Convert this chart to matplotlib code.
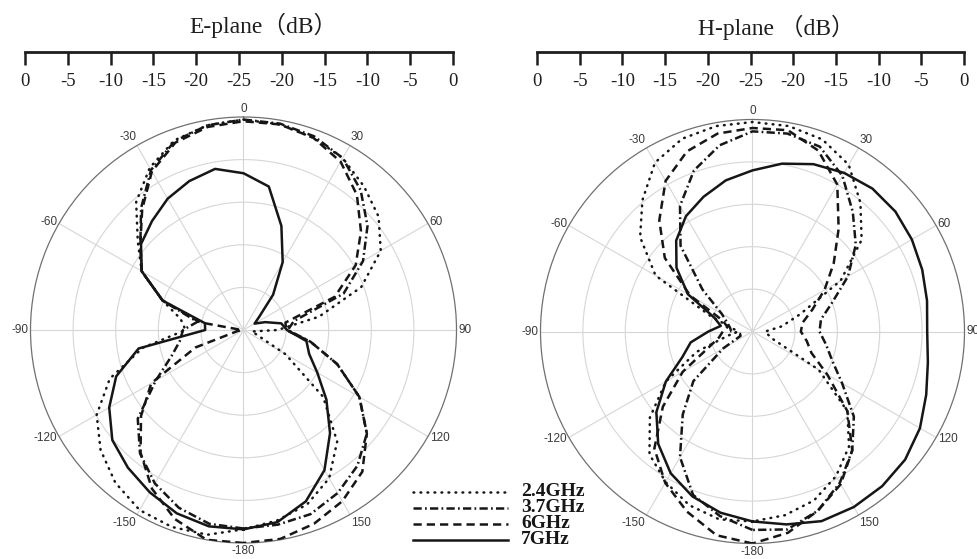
import numpy as np
import matplotlib
matplotlib.use('Agg')
import matplotlib.pyplot as plt

# angles (deg, clockwise from top) shared by every pattern
angles = list(range(-180, 180, 10))

# E-plane patterns (dB)
e_24 = [-1.6, -0.6, -0.4, -0.6, -1.6, -3.1, -5.1, -8.3, -13.0, -18.2, -17.5, -14.9,
        -11.2, -8.8, -5.4, -3.0, -1.3, -0.6, -0.3, -0.5, -1.0, -1.7, -3.0, -4.3,
        -6.4, -10.3, -16.0, -21.0, -24.0, -23.3, -19.3, -12.8, -7.9, -4.9, -3.2, -2.3]
e_37 = [-1.7, -1.9, -2.8, -4.2, -6.1, -8.8, -13.1, -16.0, -17.4, -17.9, -19.5, -14.9,
        -11.2, -9.2, -6.3, -3.3, -1.4, -0.6, -0.3, -0.4, -0.8, -1.7, -3.6, -6.0,
        -8.8, -12.5, -19.0, -19.8, -17.0, -13.3, -9.3, -6.1, -4.2, -2.9, -2.0, -1.8]
e_6 = [0.0, 0.0, -1.4, -3.5, -6.2, -9.3, -12.5, -19.0, -24.3, -24.8, -19.8, -14.9,
       -11.2, -9.2, -6.5, -3.5, -1.6, -0.8, -0.5, -0.5, -1.0, -2.2, -4.3, -7.0,
       -9.8, -13.6, -20.0, -20.0, -17.0, -13.3, -9.3, -6.1, -3.3, -1.8, -0.8, -0.1]
e_7 = [-1.6, -1.6, -2.1, -3.0, -3.9, -4.9, -6.8, -9.1, -12.5, -20.5, -20.4, -14.9,
       -11.2, -9.3, -8.3, -7.2, -6.4, -5.8, -6.6, -7.9, -12.0, -15.8, -19.6, -22.6,
       -23.5, -22.3, -20.5, -19.9, -17.5, -16.8, -15.0, -12.3, -9.2, -6.0, -3.6, -2.1]

# H-plane patterns (dB)
h_24 = [-2.6, -2.5, -3.2, -4.5, -6.1, -9.2, -13.2, -18.0, -22.0, -23.3, -22.5, -19.8,
        -11.8, -7.7, -4.8, -2.0, -0.8, -0.4, -0.3, -0.4, -0.9, -2.3, -5.2, -8.2,
        -13.0, -19.0, -21.5, -23.5, -23.2, -22.5, -16.0, -10.4, -7.3, -5.3, -3.8, -3.0]
h_37 = [-1.6, -2.9, -4.5, -7.9, -12.2, -15.9, -21.0, -23.5, -23.5, -22.5, -22.3, -21.8,
        -20.8, -17.3, -11.8, -7.9, -4.8, -2.7, -1.4, -1.3, -1.8, -3.8, -6.6, -9.1,
        -12.0, -15.0, -16.8, -17.1, -16.2, -15.0, -12.8, -9.4, -6.7, -4.4, -2.5, -1.3]
h_6 = [0.0, -0.6, -2.4, -4.4, -7.0, -11.2, -15.5, -19.5, -21.0, -21.5, -22.0, -21.3,
       -16.5, -11.5, -7.9, -4.5, -2.4, -1.3, -1.0, -0.9, -2.3, -5.0, -9.2, -12.5,
       -15.2, -17.5, -19.0, -19.3, -18.5, -17.6, -14.8, -10.4, -6.7, -4.2, -2.5, -0.9]
h_7 = [-2.6, -3.3, -4.3, -5.7, -7.7, -10.2, -13.2, -16.2, -17.6, -19.8, -21.2, -20.2,
       -16.2, -13.3, -11.0, -9.3, -8.1, -6.9, -6.0, -4.9, -4.0, -3.4, -3.0, -3.0,
       -3.3, -3.7, -4.1, -4.4, -4.0, -3.2, -2.2, -1.5, -1.2, -1.1, -1.2, -1.9]

freq_labels = ['2.4GHz', '3.7GHz', '6GHz', '7GHz']
scale_labels = ['0', '-5', '-10', '-15', '-20', '-25', '-20', '-15', '-10', '-5', '0']
theta_ticks = list(range(0, 360, 30))
theta_labels = ['0', '30', '60', '90', '120', '150', '-180', '-150', '-120', '-90', '-60', '-30']

styles = [
    dict(linestyle=(0, (0.3, 2.5)), dash_capstyle='round'),
    dict(linestyle=(0, (3.3, 1.3, 0.7, 1.3))),
    dict(linestyle=(0, (3.3, 2.0))),
    dict(linestyle='-'),
]

serif = ['Liberation Serif', 'Noto Sans CJK SC']
W, H = 978, 559
LW = 1.8
INK = '#161616'

fig = plt.figure(figsize=(W / 100, H / 100), dpi=100)
fig.patch.set_facecolor('white')


def polar_panel(cx, cy, R, series):
    ax = fig.add_axes([(cx - R) / W, (H - cy - R) / H, 2 * R / W, 2 * R / H], projection='polar')
    ax.set_theta_zero_location('N')
    ax.set_theta_direction(-1)
    ax.set_ylim(-25, 0)
    ax.set_yticks([-20, -15, -10, -5])
    ax.set_yticklabels([])
    ax.set_xticks(np.deg2rad(theta_ticks))
    ax.set_xticklabels([])
    ax.set_xticks(np.deg2rad(np.arange(0, 360, 5)), minor=True)
    ax.tick_params(axis='x', which='minor', direction='in', length=4, width=0.7, color='#707070')
    ax.tick_params(axis='x', which='major', direction='inout', length=7, width=0.7, color='#707070')
    ax.grid(True, color='#d6d6d6', lw=0.8)
    ax.spines['polar'].set_color('#707070')
    ax.spines['polar'].set_linewidth(0.9)

    th = np.deg2rad(angles + [angles[0]])
    for vals, st in zip(series, styles):
        ax.plot(th, vals + [vals[0]], color=INK, lw=LW, zorder=3, **st)

    for a, lab in zip(theta_ticks, theta_labels):
        s, c = np.sin(np.deg2rad(a)), np.cos(np.deg2rad(a))
        ha = 'left' if s > 0.3 else ('right' if s < -0.3 else 'center')
        va = 'bottom' if c > 0.6 else ('top' if c < -0.6 else 'center')
        ax.annotate(lab, xy=(np.deg2rad(a), 0), xytext=(1.4 * s, 1.8 * c),
                    textcoords='offset points', ha=ha, va=va, fontsize=8.5,
                    family='Liberation Sans', color='#3a3a3a', annotation_clip=False)
    return ax


def db_scale(x0, x1, y):
    ax = fig.add_axes([x0 / W, (H - y) / H, (x1 - x0) / W, 0.001])
    ax.patch.set_visible(False)
    for side in ['top', 'left', 'right']:
        ax.spines[side].set_visible(False)
    ax.spines['bottom'].set_linewidth(2.0)
    ax.spines['bottom'].set_color('#1e1e1e')
    ax.set_xlim(0, 10)
    ax.set_yticks([])
    ax.set_xticks(range(11))
    ax.set_xticklabels(scale_labels, family=serif, fontsize=13.5, color='#1e1e1e')
    ax.tick_params(axis='x', direction='out', length=9, width=1.8, color='#1e1e1e', pad=6)


polar_panel(243.5, 330, 213, [e_24, e_37, e_6, e_7])
polar_panel(752.5, 331.5, 212, [h_24, h_37, h_6, h_7])

db_scale(25, 453, 52)
db_scale(537, 964, 52)

fig.text(263 / W, 1 - 25 / H, 'E-plane（dB）', ha='center', va='center',
         family=serif, fontsize=17, color='#1e1e1e')
fig.text(776 / W, 1 - 27 / H, 'H-plane （dB）', ha='center', va='center',
         family=serif, fontsize=17, color='#1e1e1e')

# legend, drawn by hand
ov = fig.add_axes([0, 0, 1, 1])
ov.set_xlim(0, W)
ov.set_ylim(H, 0)
ov.axis('off')
rows = [492, 508, 524, 540]
for lab, st, y in zip(freq_labels, styles, rows):
    ov.plot([413, 508], [y, y], color=INK, lw=LW, **st)
    ov.text(521, y, lab, ha='left', va='center', family=serif, fontsize=14,
            fontweight='bold', color=INK)

plt.savefig('out.png', dpi=100, facecolor='white')
